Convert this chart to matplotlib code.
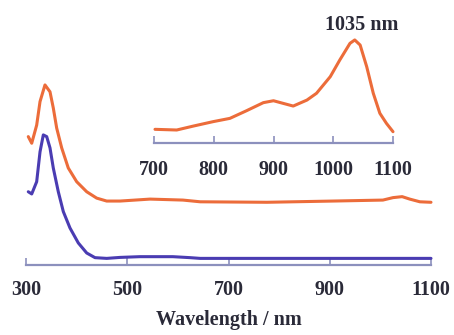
import numpy as np
import matplotlib.pyplot as plt

# main spectra (arb. units, orange trace includes its vertical offset)
wl_orange = [304.5, 311.3, 321.1, 327.7, 337.5, 347.4, 353.9, 360.6, 370.5, 383.5, 400.1, 419.9,
             439.6, 459.4, 485.7, 545, 610, 644, 776, 906, 1005, 1025, 1043, 1058, 1078, 1100]
ab_orange = [0.524, 0.497, 0.571, 0.667, 0.735, 0.707, 0.641, 0.559, 0.478, 0.396, 0.340, 0.299,
             0.273, 0.261, 0.261, 0.269, 0.265, 0.258, 0.256, 0.261, 0.265, 0.275, 0.279, 0.269, 0.258, 0.256]

wl_blue = [304.5, 311.3, 321.1, 327.7, 334.2, 340.9, 347.4, 353.9, 363.8, 373.7, 386.9, 403.3,
           419.9, 436.3, 459.4, 485.7, 525, 590, 624, 644, 800, 1000, 1100]
ab_blue = [0.299, 0.290, 0.340, 0.462, 0.531, 0.524, 0.478, 0.396, 0.299, 0.218, 0.151, 0.090,
           0.049, 0.030, 0.027, 0.031, 0.034, 0.034, 0.030, 0.027, 0.027, 0.027, 0.027]

# inset (NIR region)
wl_nir = [701.7, 738, 766, 799, 827, 855, 883, 900, 916, 933, 956, 972, 995, 1011,
          1028, 1036, 1045, 1056, 1067, 1078, 1089, 1100]
ab_nir = [0.121, 0.115, 0.150, 0.189, 0.218, 0.286, 0.357, 0.374, 0.351, 0.327, 0.380, 0.440, 0.587, 0.735,
          0.882, 0.912, 0.867, 0.675, 0.440, 0.263, 0.174, 0.100]

orange = '#ec6c3a'
blue = '#4a3cb2'
axcol = '#8c90bd'
txtcol = '#2a2a38'
fnt = 'Liberation Serif'
fs = 14.5

fig = plt.figure(figsize=(4.54, 3.35), dpi=100)

ax = fig.add_axes([26/454, 1-265/335, 405/454, 245/335])
ax.plot(wl_orange, ab_orange, color=orange, lw=2.2, clip_on=False,
        solid_joinstyle='round', solid_capstyle='round')
ax.plot(wl_blue, ab_blue, color=blue, lw=2.2, clip_on=False,
        solid_joinstyle='round', solid_capstyle='round')
ax.set_xlim(300, 1100)
ax.set_ylim(0, 1)
for s in ['top', 'right', 'left']:
    ax.spines[s].set_visible(False)
ax.spines['bottom'].set_color(axcol)
ax.spines['bottom'].set_linewidth(1.6)
ax.set_yticks([])
ax.set_xticks([300, 500, 700, 900, 1100])
ax.tick_params(axis='x', direction='in', length=5, width=1.2, color=axcol, pad=11,
               labelcolor=txtcol)
for t in ax.get_xticklabels():
    t.set_fontfamily(fnt)
    t.set_fontsize(fs)
    t.set_fontweight('bold')
ax.set_xlabel('Wavelength / nm', fontfamily=fnt, fontsize=fs, fontweight='bold',
              color=txtcol, labelpad=7)

axi = fig.add_axes([154/454, 1-143/335, 239/454, 113/335])
axi.plot(wl_nir, ab_nir, color=orange, lw=2.2, clip_on=False,
         solid_joinstyle='round', solid_capstyle='round')
axi.set_xlim(700, 1100)
axi.set_ylim(0, 1)
axi.patch.set_alpha(0)
for s in ['top', 'right', 'left']:
    axi.spines[s].set_visible(False)
axi.spines['bottom'].set_color(axcol)
axi.spines['bottom'].set_linewidth(1.6)
axi.set_yticks([])
axi.set_xticks([700, 800, 900, 1000, 1100])
axi.tick_params(axis='x', direction='in', length=5, width=1.2, color=axcol, pad=12,
                labelcolor=txtcol)
for t in axi.get_xticklabels():
    t.set_fontfamily(fnt)
    t.set_fontsize(fs)
    t.set_fontweight('bold')
axi.text(1048, 1.044, '1035 nm', ha='center', va='center', fontfamily=fnt,
         fontsize=fs, fontweight='bold', color=txtcol)

plt.savefig('out.png', dpi=100)
